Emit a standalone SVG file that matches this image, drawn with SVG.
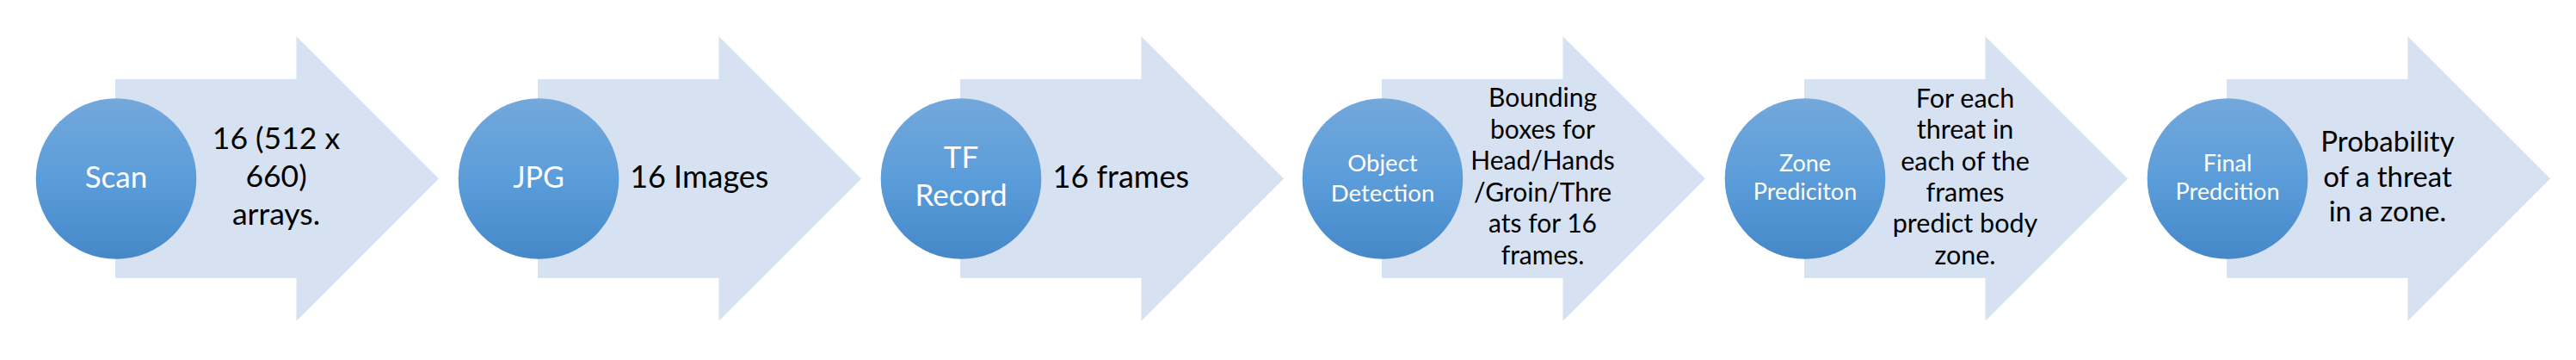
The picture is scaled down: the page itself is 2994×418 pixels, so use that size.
<svg xmlns="http://www.w3.org/2000/svg" width="2994" height="418" viewBox="0 0 2994 418">
<defs>
<linearGradient id="cg" x1="0" y1="0" x2="0" y2="1">
<stop offset="0" stop-color="#73A8DB"/>
<stop offset="0.5" stop-color="#5B9DDA"/>
<stop offset="1" stop-color="#4588C8"/>
</linearGradient>
<path id="arr" d="M0,92 H210.5 V42.3 L376,207.5 L210.5,372.7 V322.7 H0 Z"/>
</defs>
<style>
.arrow{fill:#D6E1F1}
.circ{fill:url(#cg)}
.ct{fill:#FFFFFF;font-family:Lato,"Open Sans",sans-serif;text-anchor:middle}
.lt{fill:#000000;font-family:Lato,"Open Sans",sans-serif;text-anchor:middle}
</style>
<rect width="2994" height="418" fill="#FFFFFF"/>
<g id="connectors">
<use href="#arr" class="arrow" x="134"/>
<use href="#arr" class="arrow" x="625"/>
<use href="#arr" class="arrow" x="1116"/>
<use href="#arr" class="arrow" x="1606"/>
<use href="#arr" class="arrow" x="2097"/>
<use href="#arr" class="arrow" x="2588"/>
</g>
<g id="step-scan">
<circle class="circ" cx="135" cy="207.5" r="93.3"/>
<text class="ct" x="135" y="218.3" font-size="35">Scan</text>
<text class="lt" font-size="35.5"><tspan x="321" y="173.3">16 (512 x</tspan><tspan x="321" y="217.3">660)</tspan><tspan x="321" y="260.7">arrays.</tspan></text>
</g>
<g id="step-jpg">
<circle class="circ" cx="626" cy="207.5" r="93.3"/>
<text class="ct" x="626" y="218.3" font-size="34">JPG</text>
<text class="lt" x="812.8" y="218.3" font-size="36">16 Images</text>
</g>
<g id="step-tfrecord">
<circle class="circ" cx="1117" cy="207.5" r="93.3"/>
<text class="ct" font-size="35"><tspan x="1117" y="195">TF</tspan><tspan x="1117" y="239.3">Record</tspan></text>
<text class="lt" x="1302.8" y="218.3" font-size="36">16 frames</text>
</g>
<g id="step-object-detection">
<circle class="circ" cx="1607" cy="207.5" r="93.3"/>
<text class="ct" font-size="27.5"><tspan x="1607" y="199.3">Object</tspan><tspan x="1607" y="234.3">Detection</tspan></text>
<text class="lt" font-size="30"><tspan x="1793" y="124.3">Bounding</tspan><tspan x="1793" y="160.8">boxes for</tspan><tspan x="1793" y="197">Head/Hands</tspan><tspan x="1793" y="233.5">/Groin/Thre</tspan><tspan x="1793" y="270">ats for 16</tspan><tspan x="1793" y="306.5">frames.</tspan></text>
</g>
<g id="step-zone-prediction">
<circle class="circ" cx="2098" cy="207.5" r="93.3"/>
<text class="ct" font-size="27"><tspan x="2098" y="198.7">Zone</tspan><tspan x="2098" y="231.7">Prediciton</tspan></text>
<text class="lt" font-size="30.5"><tspan x="2284" y="124.8">For each</tspan><tspan x="2284" y="161.2">threat in</tspan><tspan x="2284" y="197.5">each of the</tspan><tspan x="2284" y="234">frames</tspan><tspan x="2284" y="270.3">predict body</tspan><tspan x="2284" y="306.7">zone.</tspan></text>
</g>
<g id="step-final-prediction">
<circle class="circ" cx="2589" cy="207.5" r="93.3"/>
<text class="ct" font-size="27"><tspan x="2589" y="199">Final</tspan><tspan x="2589" y="231.7">Predcition</tspan></text>
<text class="lt" font-size="33"><tspan x="2775" y="175.7">Probability</tspan><tspan x="2775" y="216.5">of a threat</tspan><tspan x="2775" y="256.7">in a zone.</tspan></text>
</g>
</svg>
